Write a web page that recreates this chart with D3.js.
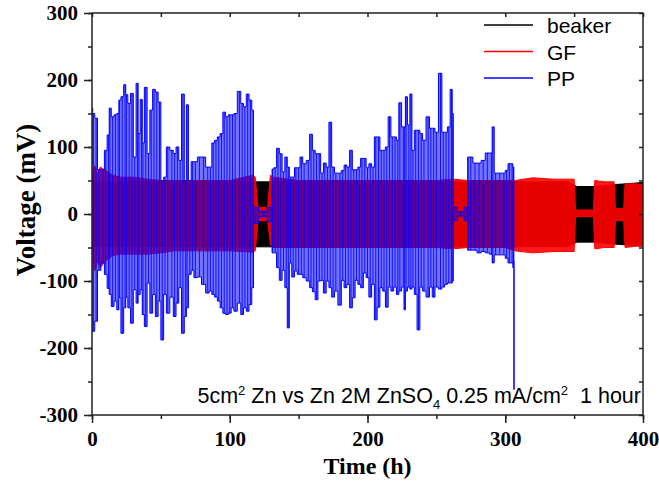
<!DOCTYPE html>
<html>
<head>
<meta charset="utf-8">
<script src="https://cdn.jsdelivr.net/npm/d3@7"></script>
<style>
    body { margin: 0; background: #fff; }
</style>
</head>
<body>
<div class="graph"></div>
<script>
// envelopes of the cycling voltage (mV)
const beakerTime = [0, 100, 200, 300, 345, 352, 365, 380, 400]
const beakerHigh = [48, 48, 48, 48, 48, 41, 41, 44, 47]
const beakerLow = [-48, -49, -49, -49, -49, -42, -42, -45, -48]

const gfTime = [0, 2, 4, 6, 10, 15, 20, 30, 40, 50, 60, 80, 100, 117, 118.5, 120.5, 127.5, 129.5, 131, 150, 200, 250, 262, 273, 300, 307, 320, 335, 350, 351, 364, 365, 372, 379, 380, 386, 387, 395, 400]
const gfHigh = [45, 72, 60, 70, 65, 58, 55, 55, 52, 50, 50, 50, 50, 58, 55, 10, 10, 58, 55, 50, 50, 50, 52, 50, 50, 50, 54, 52, 52, 6, 6, 50, 48, 48, 8, 8, 45, 45, 44]
const gfLow = [-45, -85, -70, -80, -70, -62, -60, -60, -60, -58, -55, -55, -55, -57, -55, -10, -10, -45, -50, -50, -50, -50, -52, -50, -50, -55, -58, -56, -56, -4, -4, -52, -50, -50, -10, -10, -50, -48, -48]

const ppTime = [0, 1, 3, 5, 8, 10, 12, 13, 15, 17, 19, 20, 22, 24, 25, 27, 29, 31, 33, 34, 36, 37, 39, 41, 43, 45, 47, 49, 51, 53, 55, 58, 60, 62, 64, 66, 68, 69, 71, 73, 75, 78, 81, 84, 86, 88, 90, 92, 94, 96, 98, 100, 102, 104, 107, 109, 111, 113, 115, 117,
    117.5, 124, 130.5,
    131, 133, 135, 137, 139, 141, 142.5, 144, 146, 148, 150, 152, 154, 157, 159, 161, 163, 165, 167, 169, 171, 173, 175, 177, 180, 182, 184, 186, 188, 190, 192, 194, 196, 198, 200, 202, 204, 206, 208, 210, 212, 214, 216, 218, 220, 222, 223.5, 226, 227, 228, 230, 231.5, 233, 235, 237, 239, 241, 244, 246, 248, 250, 253, 255, 257, 259, 261, 262,
    262.5, 268, 272.5,
    273, 275, 278, 281, 284, 287, 290, 291, 293, 296, 299, 301, 303, 305, 306, 306.5]
const ppHigh = [158, 150, 143, 66, 66, 95, 118, 158, 145, 148, 150, 170, 175, 193, 178, 165, 180, 85, 195, 120, 171, 106, 189, 90, 155, 186, 182, 167, 50, 55, 100, 95, 90, 100, 80, 179, 50, 163, 50, 78, 78, 85, 85, 70, 70, 106, 110, 115, 120, 152, 145, 148, 148, 150, 183, 165, 160, 179, 170, 155,
    10, 4, 10,
    67, 69, 98, 90, 63, 85, 70, 55, 55, 69, 69, 85, 75, 80, 119, 95, 90, 90, 61, 76, 70, 137, 70, 61, 61, 65, 73, 70, 95, 66, 66, 70, 83, 83, 69, 75, 70, 115, 115, 95, 95, 100, 145, 115, 115, 110, 166, 130, 130, 175, 133, 179, 95, 125, 125, 120, 110, 145, 128, 128, 122, 210, 122, 122, 130, 186, 150,
    10, 3, 10,
    85, 85, 76, 76, 80, 91, 91, 130, 61, 61, 61, 65, 75, 75, 70, -70]
const ppLow = [-173, -175, -160, -84, -73, -90, -111, -120, -138, -130, -143, -125, -178, -140, -124, -140, -163, -113, -133, -120, -113, -150, -168, -103, -148, -120, -153, -130, -188, -120, -148, -124, -153, -133, -110, -178, -153, -140, -90, -84, -95, -94, -105, -118, -115, -120, -124, -130, -140, -148, -150, -148, -140, -145, -133, -150, -140, -145, -135, -110,
    -14, -4, -12,
    -58, -58, -80, -99, -84, -110, -170, -73, -94, -85, -90, -90, -95, -100, -110, -116, -128, -100, -99, -118, -100, -110, -124, -115, -136, -99, -110, -105, -140, -125, -99, -105, -110, -88, -95, -124, -105, -158, -139, -110, -115, -139, -109, -115, -109, -120, -115, -109, -143, -115, -109, -112, -109, -120, -173, -109, -115, -124, -109, -124, -109, -112, -109, -105, -103, -103, -100,
    -10, -3, -10,
    -54, -54, -54, -58, -56, -58, -60, -73, -61, -61, -61, -66, -73, -73, -80, -262]

const xTicks = [0, 100, 200, 300, 400]
const yTicks = [-300, -200, -100, 0, 100, 200, 300]
const legendNames = ["beaker", "GF", "PP"]
const legendColors = ["#000000", "#ff0000", "#0000ff"]

const width = 659
const height = 484
const margin = { top: 13, right: 16, bottom: 69, left: 92 }

const svg = d3.select(".graph")
    .append("svg")
    .attr("width", width)
    .attr("height", height)

const x = d3.scaleLinear()
    .domain([0, 400])
    .range([margin.left, width - margin.right])

const y = d3.scaleLinear()
    .domain([-300, 300])
    .range([height - margin.bottom, margin.top])

function rows(time, high, low) {
    return time.map(function (t, i) {
        return { t: t, high: high[i], low: low[i] }
    })
}

svg.append("clipPath")
    .attr("id", "plot-clip")
    .append("rect")
    .attr("x", x(0))
    .attr("y", y(300))
    .attr("width", x(400) - x(0))
    .attr("height", y(-300) - y(300))

const plot = svg.append("g").attr("clip-path", "url(#plot-clip)")

function drawBand(data, color, fillOpacity, curve) {
    const area = d3.area()
        .x(function (d) { return x(d.t) })
        .y0(function (d) { return y(d.low) })
        .y1(function (d) { return y(d.high) })
        .curve(curve)

    plot.append("path")
        .datum(data)
        .attr("d", area)
        .style("fill", color)
        .style("fill-opacity", fillOpacity)

    const edge = ["high", "low"]
    edge.forEach(function (key) {
        plot.append("path")
            .datum(data)
            .attr("d", d3.line()
                .x(function (d) { return x(d.t) })
                .y(function (d) { return y(d[key]) })
                .curve(curve))
            .style("fill", "none")
            .style("stroke", color)
            .style("stroke-width", 1)
    })
}

drawBand(rows(beakerTime, beakerHigh, beakerLow), "#000000", 1, d3.curveLinear)
drawBand(rows(gfTime, gfHigh, gfLow), "#ff0000", 0.9, d3.curveLinear)

const pp = rows(ppTime, ppHigh, ppLow)
drawBand(pp, "#0000ff", 0.55, d3.curveStep)

plot.selectAll("line.pp-cycle")
    .data(pp)
    .enter()
    .append("line")
    .attr("class", "pp-cycle")
    .attr("x1", function (d) { return x(d.t) })
    .attr("x2", function (d) { return x(d.t) })
    .attr("y1", function (d) { return y(d.low) })
    .attr("y2", function (d) { return y(d.high) })
    .style("stroke", "#0000ff")
    .style("stroke-width", 1)
    .style("stroke-opacity", 0.85)

// axes
const minorX = d3.range(0, 401, 50)
const minorY = d3.range(-300, 301, 50)

function styleAxis(g) {
    g.select(".domain").remove()
    g.selectAll("line").style("stroke", "#222").style("stroke-width", 1.5)
}

svg.append("g")
    .attr("transform", `translate(0, ${y(-300)})`)
    .call(d3.axisBottom(x).tickValues(minorX).tickSize(4).tickFormat(""))
    .call(styleAxis)

svg.append("g")
    .attr("transform", `translate(0, ${y(-300)})`)
    .call(d3.axisBottom(x).tickValues(xTicks).tickSize(8).tickFormat(function (d) { return String(d) }))
    .call(styleAxis)
    .selectAll("text")
    .attr("y", 31)
    .attr("dy", 0)
    .style("font-family", "'Liberation Serif', 'Times New Roman', serif")
    .style("font-weight", "bold")
    .style("font-size", "21px")
    .style("fill", "#000")

svg.append("g")
    .attr("transform", `translate(${x(0)}, 0)`)
    .call(d3.axisLeft(y).tickValues(minorY).tickSize(4).tickFormat(""))
    .call(styleAxis)

svg.append("g")
    .attr("transform", `translate(${x(0)}, 0)`)
    .call(d3.axisLeft(y).tickValues(yTicks).tickSize(8).tickPadding(6).tickFormat(function (d) { return String(d) }))
    .call(styleAxis)
    .selectAll("text")
    .style("font-family", "'Liberation Serif', 'Times New Roman', serif")
    .style("font-weight", "bold")
    .style("font-size", "21px")
    .style("fill", "#000")

svg.append("g")
    .attr("transform", `translate(0, ${y(300)})`)
    .call(d3.axisBottom(x).tickValues(minorX).tickSize(4).tickFormat(""))
    .call(styleAxis)

svg.append("g")
    .attr("transform", `translate(${x(400)}, 0)`)
    .call(d3.axisLeft(y).tickValues(minorY).tickSize(4).tickFormat(""))
    .call(styleAxis)

svg.append("rect")
    .attr("x", x(0))
    .attr("y", y(300))
    .attr("width", x(400) - x(0))
    .attr("height", y(-300) - y(300))
    .style("fill", "none")
    .style("stroke", "#222")
    .style("stroke-width", 1.5)

svg.append("text")
    .attr("x", (x(0) + x(400)) / 2)
    .attr("y", 474)
    .attr("text-anchor", "middle")
    .style("font-family", "'Liberation Serif', 'Times New Roman', serif")
    .style("font-weight", "bold")
    .style("font-size", "24px")
    .text("Time (h)")

svg.append("text")
    .attr("transform", "translate(35, 200) rotate(-90)")
    .attr("text-anchor", "middle")
    .style("font-family", "'Liberation Serif', 'Times New Roman', serif")
    .style("font-weight", "bold")
    .style("font-size", "27px")
    .text("Voltage (mV)")

// legend
const legend = svg.append("g")
legendNames.forEach(function (name, i) {
    legend.append("line")
        .attr("x1", 484)
        .attr("x2", 533)
        .attr("y1", 25 + i * 26.5)
        .attr("y2", 25 + i * 26.5)
        .style("stroke", legendColors[i])
        .style("stroke-width", 1.5)
    legend.append("text")
        .attr("x", 547)
        .attr("y", 33 + i * 26.5)
        .style("font-family", "'Liberation Sans', Arial, sans-serif")
        .style("font-size", "21px")
        .text(name)
})

// condition note
const note = svg.append("text")
    .attr("x", 641)
    .attr("y", 403)
    .attr("text-anchor", "end")
    .style("font-family", "'Liberation Sans', Arial, sans-serif")
    .style("font-size", "21.5px")

note.append("tspan").text("5cm")
note.append("tspan").attr("dy", -8).style("font-size", "13px").text("2")
note.append("tspan").attr("dy", 8).text(" Zn vs Zn 2M ZnSO")
note.append("tspan").attr("dy", 6).style("font-size", "13px").text("4")
note.append("tspan").attr("dy", -6).text(" 0.25 mA/cm")
note.append("tspan").attr("dy", -8).style("font-size", "13px").text("2")
note.append("tspan").attr("dy", 8).text("\u00a0 1 hour")
</script>
</body>
</html>
